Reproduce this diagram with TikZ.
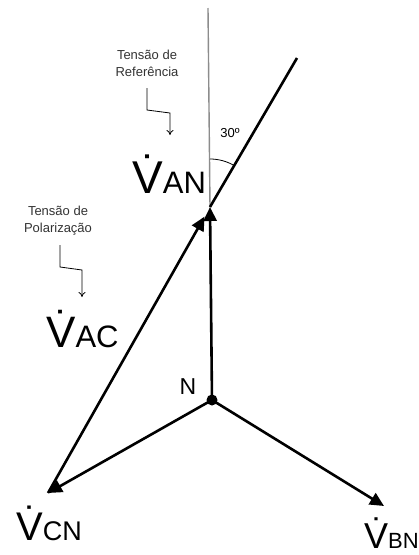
\documentclass[tikz,border=0pt]{standalone}
\usepackage{fontspec}
\setmainfont{Liberation Sans}
\usetikzlibrary{arrows.meta}
\tikzset{
  vec/.style={line width=2.6pt, -{Triangle[length=14pt,width=13pt]}},
  plain/.style={line width=2.6pt},
  ref/.style={line width=1.4pt, draw=black!45},
  note/.style={font=\fontsize{13}{17}\selectfont, align=center, inner sep=0pt, text=black!80},
  hint/.style={line width=0.8pt, -{To[length=5pt,width=7pt]}},
  phasor/.style={anchor=base west, inner sep=0pt},
}
\newcommand{\bigV}[1]{{\fontsize{#1}{#1}\selectfont\.V}}
\newcommand{\subtxt}[2]{{\fontsize{#1}{#1}\selectfont #2}}
\begin{document}
\begin{tikzpicture}[x=1pt,y=-1pt]
\useasboundingbox[fill=white] (0,0) rectangle (419,555);
% key points
\coordinate (A) at (210,207);
\coordinate (C) at (48,493);
\coordinate (B) at (384,506);
\coordinate (top) at (208,8);
\coordinate (far) at (297,58);
\node[circle, fill=black, inner sep=0pt, minimum size=11pt] (N) at (212,400) {};
% reference vertical and 30 degree line
\draw[ref] (top) -- (A);
\draw[plain] (A) -- (far);
\draw[line width=0.8pt] ([shift={(-90:48)}]A) arc[start angle=-90, end angle=-60, radius=48];
% phasors
\draw[vec] (N.center) -- (A);
\draw[vec] (N.center) -- (B);
\draw[vec] (N.center) -- (C);
\draw[vec, shorten >=11pt] (C) -- (A);
% labels
\node[phasor] (lan) at (132,193) {\bigV{46}\subtxt{31}{AN}};
\node[phasor] (lac) at (46,347) {\bigV{44}\subtxt{31}{AC}};
\node[phasor] (lcn) at (16,540) {\bigV{40}\subtxt{27}{CN}};
\node[phasor] (lbn) at (364,548) {\bigV{36}\subtxt{22}{BN}};
\node[font=\fontsize{23}{23}\selectfont, inner sep=0pt] (ln) at (188,387) {N};
\node[font=\fontsize{13}{13}\selectfont, inner sep=0pt] (ang) at (230,133) {30º};
% notes
\node[note] (ref) at (147,63) {Tensão de\\Referência};
\node[note] (pol) at (58,221) {Tensão de\\Polarização};
\coordinate (r1) at (147,88);
\coordinate (r2) at (147,110);
\coordinate (r3) at (170,113);
\coordinate (r4) at (170,135);
\draw[hint] (r1) -- (r2) -- (r3) -- (r4);
\coordinate (p1) at (60,245);
\coordinate (p2) at (60,267);
\coordinate (p3) at (82,270);
\coordinate (p4) at (82,297);
\draw[hint] (p1) -- (p2) -- (p3) -- (p4);
\end{tikzpicture}
\end{document}
